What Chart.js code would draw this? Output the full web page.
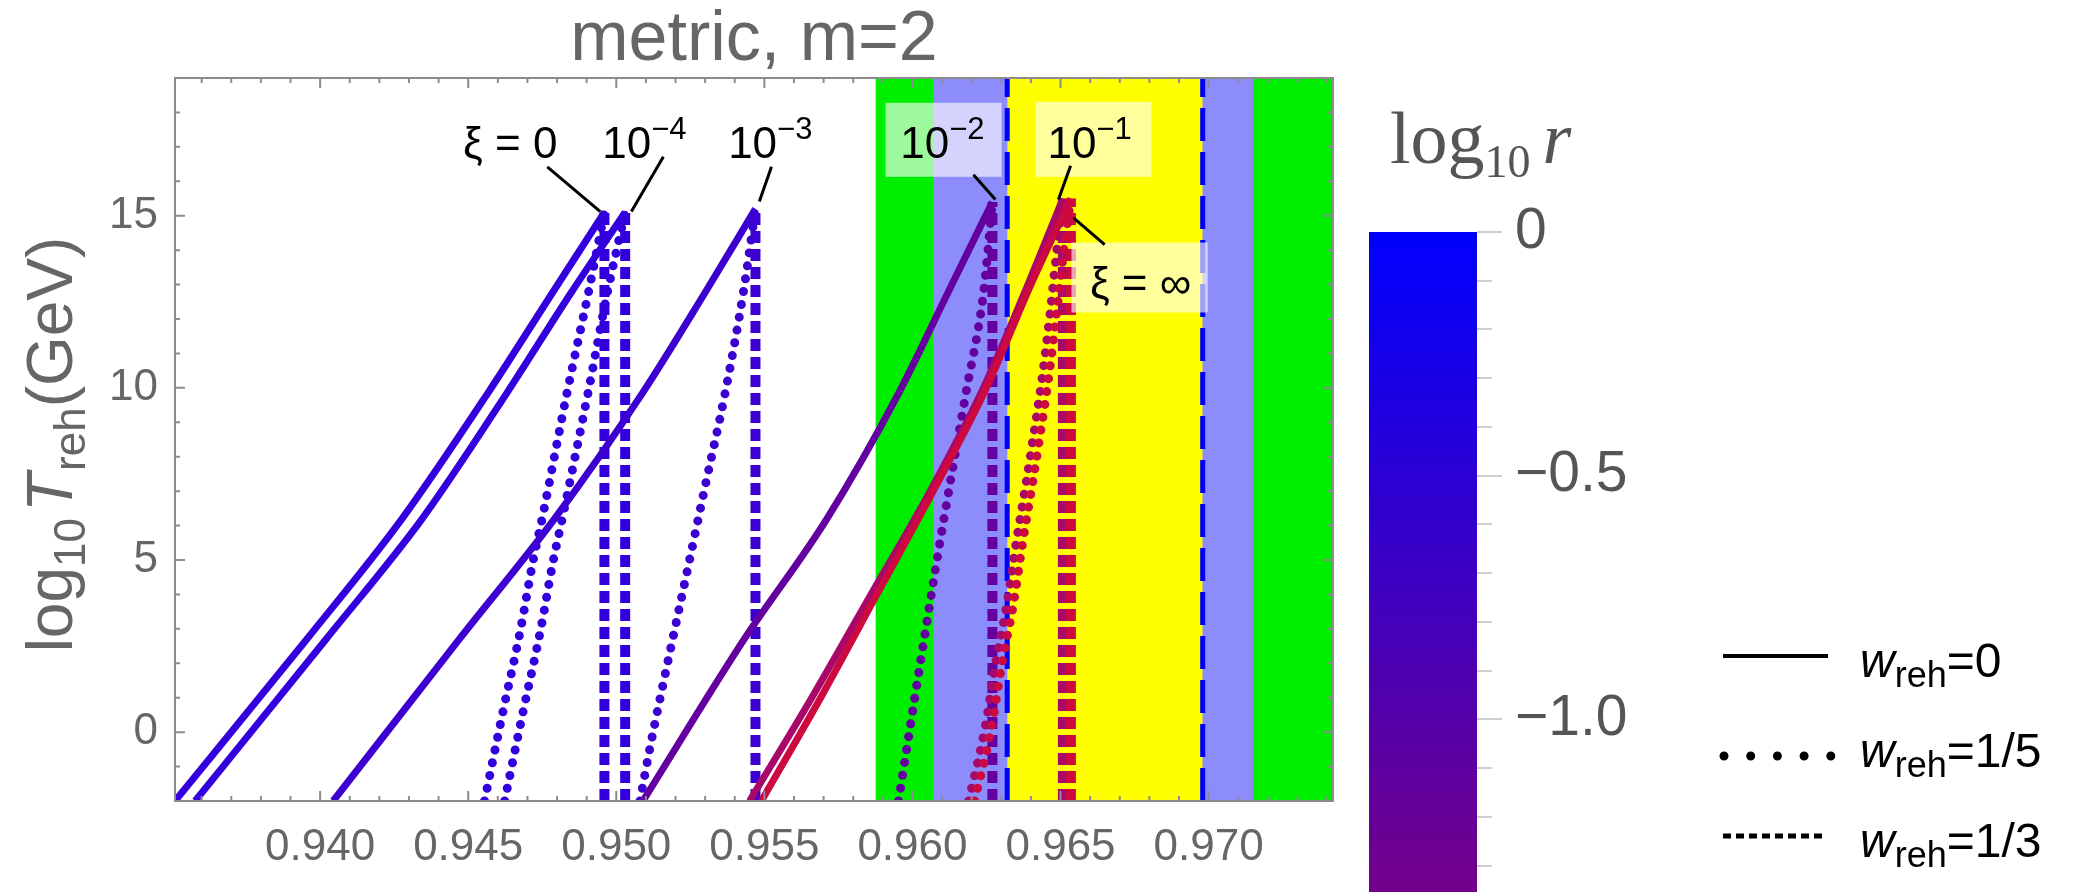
<!DOCTYPE html>
<html><head><meta charset="utf-8">
<script src="https://cdn.jsdelivr.net/npm/chart.js@4.4.1/dist/chart.umd.min.js"></script>
<style>
html,body{margin:0;padding:0;background:#fff;}
#wrap{position:relative;width:2094px;height:892px;overflow:hidden;background:#fff;}
#main{position:absolute;left:0;top:0;}
#cbar{position:absolute;left:1369px;top:150px;}
</style></head><body>
<div id="wrap"><canvas id="main" width="2094" height="892"></canvas><canvas id="cbar" width="300" height="742"></canvas></div>
<script>
// ================= DATA =================
const nsMin = 0.9351, nsMax = 0.9742;
const TMin = -2, TMax = 19;

// w_reh = 0 (solid): log10 T_reh and n_s
const solidT_0    = [-2, 2.7, 6.18, 9.87, 12.77, 15.1];
const solidNs_0   = [0.9351, 0.93955, 0.94275, 0.94568, 0.94785, 0.9496];
const solidT_4    = [-2, 2.7, 6.18, 9.87, 12.77, 15.1];
const solidNs_4   = [0.93578, 0.9402, 0.94343, 0.94632, 0.94848, 0.9503];
const solidT_3    = [-2, 2.7, 6.18, 9.87, 12.77, 15.2];
const solidNs_3   = [0.94044, 0.9447, 0.9479, 0.9509, 0.9530, 0.9547];
const solidT_2    = [-2, 2.7, 6.18, 9.87, 12.77, 15.4];
const solidNs_2   = [0.9509, 0.95432, 0.9571, 0.95955, 0.9612, 0.9627];
const solidT_1    = [-2, 1, 4, 7, 10, 13, 15.5];
const solidNs_1   = [0.9545, 0.9566, 0.9586, 0.9606, 0.9624, 0.9639, 0.96508];
const solidT_inf  = [-2, 1, 4, 7, 10, 13, 15.5];
const solidNs_inf = [0.9549, 0.9569, 0.9588, 0.9607, 0.9625, 0.9640, 0.96535];

// w_reh = 1/5 (dotted)
const dotT_0    = [-2, 0.58, 2.99, 4.93, 6.3, 9.87, 12.77, 15.1];
const dotNs_0   = [0.94555, 0.94617, 0.94677, 0.94718, 0.94752, 0.94834, 0.94906, 0.9496];
const dotT_4    = [-2, 0.58, 2.99, 4.93, 6.3, 9.87, 12.77, 15.1];
const dotNs_4   = [0.94623, 0.94685, 0.94745, 0.94786, 0.9482, 0.94905, 0.9497, 0.9503];
const dotT_3    = [-2, -0.4, 2.12, 4.82, 7.14, 9.87, 12.77, 15.2];
const dotNs_3   = [0.9508, 0.95115, 0.95176, 0.95243, 0.953, 0.95368, 0.95429, 0.9547];
const dotT_2    = [-2, 1.01, 2.94, 4.54, 6.08, 9.86, 12.76, 15.4];
const dotNs_2   = [0.95953, 0.96008, 0.96044, 0.96074, 0.96104, 0.96181, 0.9624, 0.9627];
const dotT_1    = [-2, 0.13, 2.12, 3.67, 5.6, 7.2, 8.4, 10.3, 12.27, 14.2, 15.5];
const dotNs_1   = [0.9619, 0.96245, 0.96283, 0.96318, 0.96352, 0.96383, 0.96405, 0.96438, 0.96466, 0.9649, 0.96508];
const dotT_inf  = [-2, 0.13, 2.12, 3.67, 5.6, 7.2, 8.4, 10.3, 12.27, 14.2, 15.5];
const dotNs_inf = [0.9621, 0.96267, 0.96305, 0.9634, 0.96374, 0.96405, 0.96427, 0.9646, 0.96488, 0.96514, 0.96535];

// w_reh = 1/3 (dashed, vertical)
const dashNs  = [0.9496, 0.9503, 0.9547, 0.9627, 0.96508, 0.96535];
const dashTop = [15.1, 15.1, 15.2, 15.4, 15.5, 15.5];

// observational bands and central dashed lines
const bandLo = [0.95875, 0.9607, 0.9632];
const bandHi = [0.9760, 0.9715, 0.9698];
const centralNs = [0.9632, 0.9698];

// tick labels
const xTickLabels = ['0.940', '0.945', '0.950', '0.955', '0.960', '0.965', '0.970'];
const yTickLabels = ['0', '5', '10', '15'];
const cbTickLabels = ['0', '\u22120.5', '\u22121.0'];
const cbMin = -1.354, cbMax = 0;

// annotations (data coordinates)
const labelMain  = ['\u03BE = 0', '10', '10', '10', '10', '\u03BE = \u221E'];
const labelSup   = ['', '\u22124', '\u22123', '\u22122', '\u22121', ''];
const labelNs    = [0.94642, 0.95095, 0.9552, 0.96101, 0.96598, 0.9677];
const labelT     = [16.69, 16.69, 16.69, 16.69, 16.69, 12.62];
const ptrFromNs  = [0.94767, 0.95159, 0.95524, 0.96206, 0.96534, 0.96544];
const ptrFromT   = [16.42, 16.71, 16.42, 16.19, 16.45, 14.94];
const ptrToNs    = [0.94946, 0.95051, 0.95483, 0.9628, 0.96493, 0.96649];
const ptrToT     = [15.12, 15.12, 15.41, 15.47, 15.47, 14.16];
const boxNs1 = [0.95909, 0.96416, 0.96537];
const boxNs2 = [0.96301, 0.96807, 0.96997];
const boxT1  = [16.13, 16.13, 12.19];
const boxT2  = [18.28, 18.31, 14.22];

const legendLabels = ['0', '1/5', '1/3'];

// ================= STYLE =================
const SANS = '"Liberation Sans", Arial, Helvetica, sans-serif';
const SERIF = '"Liberation Serif", "Times New Roman", serif';
const GREY = '#666666';
const xiColors = ['#3300DD', '#3300DD', '#3C00D0', '#6400A0', '#A8086A', '#CC0A40'];
const bandColors = ['#00EE00', '#8C8CFA', '#FFFF00'];

function pts(ns, T) { return ns.map((v, i) => ({x: v, y: T[i]})); }

const datasets = [];
bandLo.forEach((lo, i) => {
  datasets.push({ data: [{x: lo, y: TMax}, {x: bandHi[i], y: TMax}], showLine: true,
    borderWidth: 0, pointRadius: 0, fill: 'start', backgroundColor: bandColors[i], order: 20 - i });
});
centralNs.forEach(v => {
  datasets.push({ data: [{x: v, y: TMin}, {x: v, y: TMax}], showLine: true, borderColor: '#0000FF',
    borderWidth: 5, borderDash: [33, 11], pointRadius: 0, fill: false, order: 15 });
});
const solidSets = [[solidNs_0, solidT_0], [solidNs_4, solidT_4], [solidNs_3, solidT_3], [solidNs_2, solidT_2], [solidNs_1, solidT_1], [solidNs_inf, solidT_inf]];
const dotSets = [[dotNs_0, dotT_0], [dotNs_4, dotT_4], [dotNs_3, dotT_3], [dotNs_2, dotT_2], [dotNs_1, dotT_1], [dotNs_inf, dotT_inf]];
for (let i = 0; i < 6; i++) {
  const ord = 10 - i;
  datasets.push({ data: [{x: dashNs[i], y: TMin}, {x: dashNs[i], y: dashTop[i]}], showLine: true,
    borderColor: xiColors[i], borderWidth: 10, borderDash: [12, 6], pointRadius: 0, fill: false, order: ord });
  datasets.push({ data: pts(dotSets[i][0], dotSets[i][1]), showLine: true, borderColor: xiColors[i],
    borderWidth: 9, borderDash: [0, 13], borderCapStyle: 'round', cubicInterpolationMode: 'monotone',
    pointRadius: 0, fill: false, order: ord });
  datasets.push({ data: pts(solidSets[i][0], solidSets[i][1]), showLine: true, borderColor: xiColors[i],
    borderWidth: 7, cubicInterpolationMode: 'monotone', pointRadius: 0, fill: false, order: ord });
}

function fontStr(p) { return (p.italic ? 'italic ' : '') + p.size + 'px ' + (p.family || SANS); }
function richWidth(ctx, parts) {
  let w = 0;
  for (const p of parts) { ctx.font = fontStr(p); w += ctx.measureText(p.t).width + (p.gap || 0); }
  return w;
}
function drawRich(ctx, parts, x, y, align) {
  const w = richWidth(ctx, parts);
  let cx = align === 'center' ? x - w / 2 : (align === 'right' ? x - w : x);
  ctx.textAlign = 'left'; ctx.textBaseline = 'alphabetic';
  for (const p of parts) {
    ctx.font = fontStr(p);
    ctx.fillText(p.t, cx, y + (p.dy || 0));
    cx += ctx.measureText(p.t).width + (p.gap || 0);
  }
}

const decor = {
  id: 'decor',
  afterDatasetsDraw(chart) {
    const {ctx} = chart; const xs = chart.scales.x, ys = chart.scales.y;
    ctx.save();
    ctx.fillStyle = 'rgba(255,255,255,0.62)';
    for (let i = 0; i < boxNs1.length; i++) {
      const x1 = xs.getPixelForValue(boxNs1[i]), x2 = xs.getPixelForValue(boxNs2[i]);
      const y1 = ys.getPixelForValue(boxT2[i]), y2 = ys.getPixelForValue(boxT1[i]);
      ctx.fillRect(x1, y1, x2 - x1, y2 - y1);
    }
    ctx.strokeStyle = '#000'; ctx.lineWidth = 3; ctx.setLineDash([]);
    for (let i = 0; i < ptrFromNs.length; i++) {
      ctx.beginPath();
      ctx.moveTo(xs.getPixelForValue(ptrFromNs[i]), ys.getPixelForValue(ptrFromT[i]));
      ctx.lineTo(xs.getPixelForValue(ptrToNs[i]), ys.getPixelForValue(ptrToT[i]));
      ctx.stroke();
    }
    ctx.fillStyle = '#000';
    for (let i = 0; i < labelMain.length; i++) {
      const parts = [{t: labelMain[i], size: 44}];
      if (labelSup[i]) parts.push({t: labelSup[i], size: 31, dy: -19});
      drawRich(ctx, parts, xs.getPixelForValue(labelNs[i]), ys.getPixelForValue(labelT[i]), 'center');
    }
    ctx.restore();
  },
  afterDraw(chart) {
    const {ctx, chartArea: a} = chart; const xs = chart.scales.x, ys = chart.scales.y;
    ctx.save();
    ctx.strokeStyle = '#8c8c8c'; ctx.lineWidth = 2; ctx.setLineDash([]);
    ctx.strokeRect(a.left, a.top, a.right - a.left, a.bottom - a.top);
    ctx.beginPath();
    xs.ticks.forEach(t => {
      const px = xs.getPixelForValue(t.value);
      const major = Math.abs(t.value / 0.005 - Math.round(t.value / 0.005)) < 1e-6;
      const L = major ? 10 : 5;
      ctx.moveTo(px, a.bottom); ctx.lineTo(px, a.bottom - L);
      ctx.moveTo(px, a.top); ctx.lineTo(px, a.top + L);
    });
    ys.ticks.forEach(t => {
      const py = ys.getPixelForValue(t.value);
      const major = Math.abs(t.value / 5 - Math.round(t.value / 5)) < 1e-6;
      const L = major ? 10 : 5;
      ctx.moveTo(a.left, py); ctx.lineTo(a.left + L, py);
      ctx.moveTo(a.right, py); ctx.lineTo(a.right - L, py);
    });
    ctx.stroke();
    ctx.fillStyle = GREY;
    drawRich(ctx, [{t: 'metric, m=2', size: 70}], (a.left + a.right) / 2, 60, 'center');
    ctx.save();
    ctx.translate(72, (a.top + a.bottom) / 2 + 5);
    ctx.rotate(-Math.PI / 2);
    drawRich(ctx, [{t: 'log', size: 64}, {t: '10', size: 44, dy: 13, gap: 6}, {t: 'T', size: 64, italic: true, gap: 2},
      {t: 'reh', size: 44, dy: 13}, {t: '(GeV)', size: 64}], 0, 0, 'center');
    ctx.restore();
    ctx.fillStyle = '#555';
    drawRich(ctx, [{t: 'log', size: 74, family: SERIF}, {t: '10', size: 46, family: SERIF, dy: 14, gap: 12},
      {t: 'r', size: 74, family: SERIF, italic: true}], 1390, 163, 'left');
    // legend
    ctx.strokeStyle = '#000'; ctx.fillStyle = '#000';
    ctx.lineWidth = 4; ctx.beginPath(); ctx.moveTo(1723, 656); ctx.lineTo(1828, 656); ctx.stroke();
    ctx.lineWidth = 9; ctx.lineCap = 'round'; ctx.setLineDash([0, 26.7]);
    ctx.beginPath(); ctx.moveTo(1724, 756); ctx.lineTo(1833, 756); ctx.stroke();
    ctx.lineCap = 'butt'; ctx.lineWidth = 5; ctx.setLineDash([8, 5]);
    ctx.beginPath(); ctx.moveTo(1723, 836); ctx.lineTo(1826, 836); ctx.stroke();
    ctx.setLineDash([]);
    const rows = [677, 767, 857];
    legendLabels.forEach((lab, i) => {
      drawRich(ctx, [{t: 'w', size: 48, italic: true}, {t: 'reh', size: 36, dy: 10}, {t: '=' + lab, size: 48}], 1860, rows[i], 'left');
    });
    ctx.restore();
  }
};

new Chart(document.getElementById('main'), {
  type: 'scatter',
  data: { datasets },
  options: {
    responsive: false, animation: false, devicePixelRatio: 1, events: [],
    layout: { padding: { left: 0, top: 78, right: 761, bottom: 0 } },
    plugins: { legend: { display: false }, tooltip: { enabled: false } },
    scales: {
      x: {
        type: 'linear', min: nsMin, max: nsMax,
        afterFit: s => { s.height = 91; },
        grid: { display: false, drawTicks: false }, border: { display: false },
        ticks: {
          stepSize: 0.001, includeBounds: false, autoSkip: false, maxRotation: 0,
          font: { size: 44, family: SANS }, color: GREY, padding: 20,
          callback: v => { const k = Math.round((v - 0.940) / 0.005);
            return (Math.abs((v - 0.940) / 0.005 - k) < 1e-6 && k >= 0 && k < xTickLabels.length) ? xTickLabels[k] : ''; }
        }
      },
      y: {
        type: 'linear', min: TMin, max: TMax,
        afterFit: s => { s.width = 175; },
        grid: { display: false, drawTicks: false }, border: { display: false },
        ticks: {
          stepSize: 1, includeBounds: false, autoSkip: false,
          font: { size: 44, family: SANS }, color: GREY, padding: 17,
          callback: v => { const k = Math.round(v / 5);
            return (Math.abs(v / 5 - k) < 1e-6 && k >= 0 && k < yTickLabels.length) ? yTickLabels[k] : ''; }
        }
      }
    }
  },
  plugins: [decor]
});

// colour bar: major ticks longer than minor ticks
const cbTicks = {
  id: 'cbTicks',
  afterDraw(chart) {
    const {ctx, chartArea: a} = chart; const ys = chart.scales.y;
    ctx.save(); ctx.strokeStyle = '#cfcfcf'; ctx.lineWidth = 2; ctx.beginPath();
    ys.ticks.forEach(t => {
      const py = Math.round(ys.getPixelForValue(t.value));
      const major = Math.abs(t.value / 0.5 - Math.round(t.value / 0.5)) < 1e-6;
      ctx.moveTo(a.right, py); ctx.lineTo(a.right + (major ? 25 : 15), py);
    });
    ctx.stroke(); ctx.restore();
  }
};
new Chart(document.getElementById('cbar'), {
  type: 'bar',
  data: { labels: ['log10 r'], datasets: [{
    data: [[cbMin, cbMax]], categoryPercentage: 1, barPercentage: 1, borderWidth: 0,
    backgroundColor: (c) => {
      const ch = c.chart; if (!ch.chartArea) return '#0000ff';
      const ys = ch.scales.y;
      const g = ch.ctx.createLinearGradient(0, ys.getPixelForValue(cbMax), 0, ys.getPixelForValue(cbMin));
      g.addColorStop(0, 'rgb(0,0,255)'); g.addColorStop(1, 'rgb(115,0,138)');
      return g;
    }
  }] },
  options: {
    responsive: false, animation: false, devicePixelRatio: 1, events: [],
    layout: { padding: { left: 0, top: 82, right: 0, bottom: 0 } },
    plugins: { legend: { display: false }, tooltip: { enabled: false } },
    scales: {
      x: { display: false },
      y: {
        position: 'right', min: cbMin, max: cbMax,
        afterFit: s => { s.width = 192; s.paddingTop = 0; s.paddingBottom = 0; },
        border: { display: false },
        grid: { display: false, drawTicks: false },
        ticks: {
          stepSize: 0.1, includeBounds: false, autoSkip: false, padding: 38,
          font: { size: 57, family: SANS }, color: '#555',
          callback: v => { const k = Math.round(-v / 0.5);
            return (Math.abs(-v / 0.5 - k) < 1e-6 && k >= 0 && k < cbTickLabels.length) ? cbTickLabels[k] : ''; }
        }
      }
    }
  },
  plugins: [cbTicks]
});
</script></body></html>
